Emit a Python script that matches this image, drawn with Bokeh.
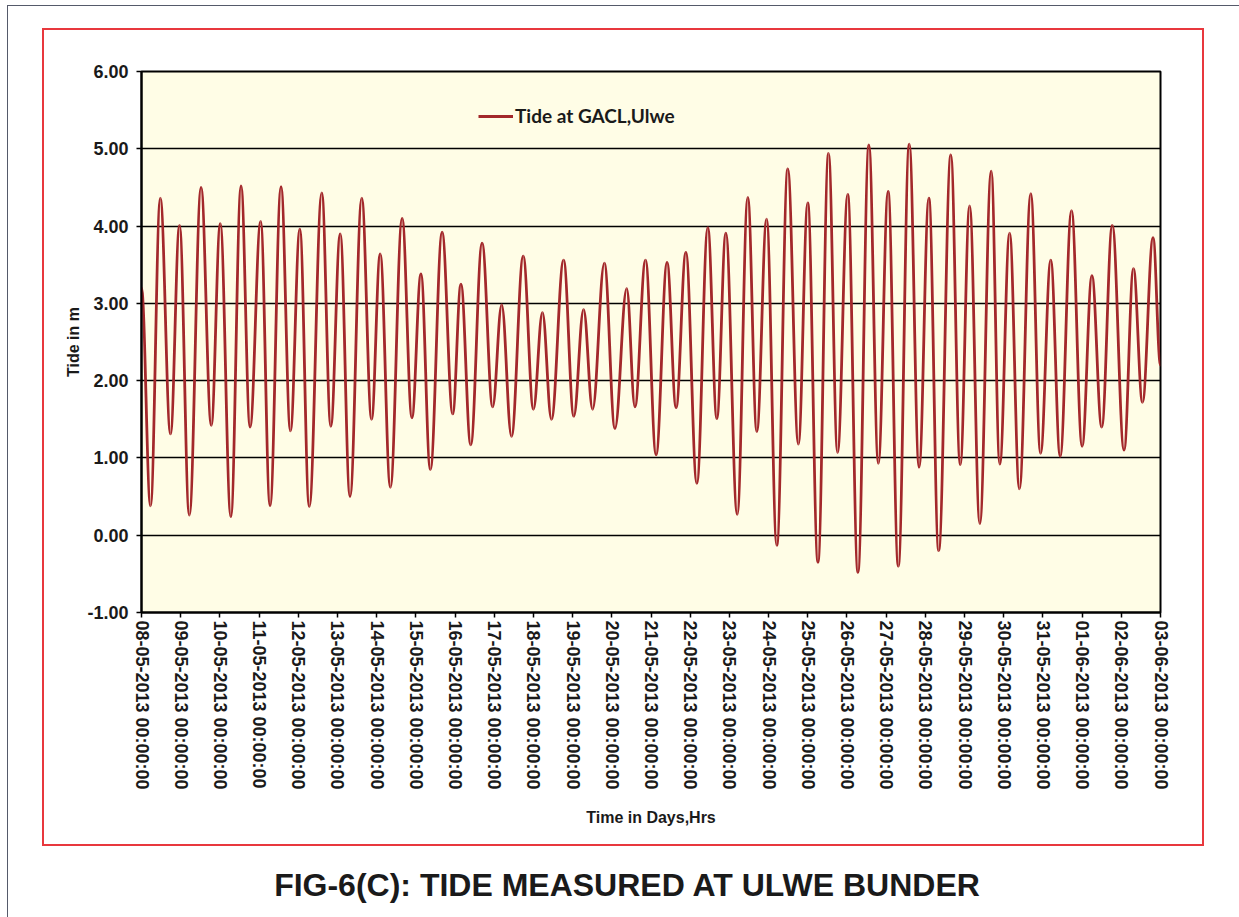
import numpy as np
from bokeh.plotting import figure
from bokeh.models import (ColumnDataSource, FixedTicker, Legend, LegendItem, Div,
                          Spacer, Range1d, NumeralTickFormatter)
from bokeh.layouts import column, row
from bokeh.embed import file_html
from bokeh.resources import INLINE

# ---- data ----
tick_labels = [
    "08-05-2013 00:00:00", "09-05-2013 00:00:00", "10-05-2013 00:00:00",
    "11-05-2013 00:00:00", "12-05-2013 00:00:00", "13-05-2013 00:00:00",
    "14-05-2013 00:00:00", "15-05-2013 00:00:00", "16-05-2013 00:00:00",
    "17-05-2013 00:00:00", "18-05-2013 00:00:00", "19-05-2013 00:00:00",
    "20-05-2013 00:00:00", "21-05-2013 00:00:00", "22-05-2013 00:00:00",
    "23-05-2013 00:00:00", "24-05-2013 00:00:00", "25-05-2013 00:00:00",
    "26-05-2013 00:00:00", "27-05-2013 00:00:00", "28-05-2013 00:00:00",
    "29-05-2013 00:00:00", "30-05-2013 00:00:00", "31-05-2013 00:00:00",
    "01-06-2013 00:00:00", "02-06-2013 00:00:00", "03-06-2013 00:00:00",
]

# time of each high / low water, in days after 08-05-2013 00:00
tide_day = [
    0.00, 0.23, 0.48, 0.74, 0.97, 1.22, 1.52, 1.78, 2.01, 2.28, 2.54, 2.77,
    3.04, 3.28, 3.56, 3.80, 4.04, 4.28, 4.60, 4.83, 5.07, 5.32, 5.62, 5.87,
    6.09, 6.35, 6.65, 6.90, 7.13, 7.37, 7.67, 7.94, 8.15, 8.40, 8.69, 8.96,
    9.19, 9.44, 9.74, 10.00, 10.23, 10.46, 10.77, 11.03, 11.28, 11.51, 11.81, 12.08,
    12.38, 12.59, 12.86, 13.13, 13.41, 13.64, 13.89, 14.17, 14.45, 14.68, 14.91, 15.20,
    15.47, 15.70, 15.95, 16.21, 16.49, 16.76, 17.00, 17.26, 17.53, 17.76, 18.02, 18.28,
    18.56, 18.80, 19.05, 19.31, 19.59, 19.84, 20.09, 20.34, 20.65, 20.89, 21.13, 21.39,
    21.68, 21.90, 22.15, 22.40, 22.69, 22.94, 23.20, 23.44, 23.73, 24.00, 24.25, 24.50,
    24.77, 25.07, 25.31, 25.54, 25.81, 26.00,
]
# tide level in m
tide_level = [
    3.20, 0.38, 4.36, 1.31, 4.01, 0.26, 4.50, 1.42, 4.03, 0.24, 4.52, 1.40,
    4.06, 0.38, 4.51, 1.35, 3.96, 0.37, 4.43, 1.41, 3.90, 0.50, 4.36, 1.50,
    3.64, 0.62, 4.10, 1.52, 3.38, 0.85, 3.92, 1.57, 3.25, 1.17, 3.78, 1.66,
    2.98, 1.28, 3.61, 1.63, 2.88, 1.50, 3.56, 1.54, 2.92, 1.63, 3.52, 1.38,
    3.19, 1.66, 3.56, 1.04, 3.53, 1.65, 3.66, 0.67, 3.98, 1.51, 3.91, 0.27,
    4.37, 1.34, 4.09, -0.13, 4.74, 1.18, 4.30, -0.35, 4.94, 1.07, 4.41, -0.48,
    5.05, 0.93, 4.45, -0.40, 5.06, 0.88, 4.36, -0.20, 4.92, 0.91, 4.26, 0.15,
    4.71, 0.92, 3.91, 0.60, 4.42, 1.06, 3.56, 1.02, 4.20, 1.15, 3.36, 1.40,
    4.01, 1.10, 3.45, 1.72, 3.85, 2.20,
]

series_name = "Tide at GACL,Ulwe"
x_title = "Time in Days,Hrs"
y_title = "Tide in m"
caption_text = "FIG-6(C): TIDE MEASURED AT ULWE BUNDER"

# ---- smooth curve segments between successive turning points ----
d = np.array(tide_day, dtype=float)
v = np.array(tide_level, dtype=float)
x0, x1, y0, y1 = d[:-1], d[1:], v[:-1], v[1:]
k = 0.37 * (x1 - x0)
src = ColumnDataSource(dict(x0=x0, y0=y0, x1=x1, y1=y1,
                            cx0=x0 + k, cy0=y0, cx1=x1 - k, cy1=y1))

FONT = "Liberation Sans"
TXT = "#1a1a1a"

p = figure(width=1162, height=818,
           x_range=Range1d(0, len(tick_labels) - 1), y_range=Range1d(-1, 6),
           output_backend="svg", toolbar_location=None,
           min_border_left=97, min_border_right=46,
           min_border_top=41, min_border_bottom=236,
           styles={"border": "2px solid #e8383d"})

p.background_fill_color = "#fffde6"
p.border_fill_color = "white"
p.outline_line_color = "black"
p.outline_line_width = 2

r = p.bezier(x0="x0", y0="y0", x1="x1", y1="y1", cx0="cx0", cy0="cy0",
             cx1="cx1", cy1="cy1", source=src, line_color="#a3282b", line_width=2.8)

# axes
p.xaxis.ticker = FixedTicker(ticks=list(range(len(tick_labels))))
p.xaxis.major_label_overrides = {i: lab for i, lab in enumerate(tick_labels)}
p.xaxis.major_label_orientation = "vertical"
p.yaxis.ticker = FixedTicker(ticks=[-1, 0, 1, 2, 3, 4, 5, 6])
p.yaxis.formatter = NumeralTickFormatter(format="0.00")

for ax in (p.xaxis[0], p.yaxis[0]):
    ax.major_label_text_font = FONT
    ax.major_label_text_font_style = "bold"
    ax.major_label_text_color = TXT
    ax.axis_label_text_font = FONT
    ax.axis_label_text_font_style = "bold"
    ax.axis_label_text_color = TXT
    ax.axis_line_color = "black"
    ax.axis_line_width = 2
    ax.major_tick_line_color = "black"
    ax.major_tick_line_width = 1.5
    ax.major_tick_in = 0
    ax.major_tick_out = 5
    ax.minor_tick_line_color = None

p.xaxis.major_label_text_font_size = "18px"
p.xaxis.major_label_standoff = 3
p.yaxis.major_label_text_font_size = "18px"
p.yaxis.major_label_standoff = 8
p.xaxis.axis_label = x_title
p.xaxis.axis_label_text_font_size = "16px"
p.xaxis.axis_label_standoff = 16
p.yaxis.axis_label = y_title
p.yaxis.axis_label_text_font_size = "16px"
p.yaxis.axis_label_standoff = 2

p.xgrid.grid_line_color = None
p.ygrid.grid_line_color = "black"
p.ygrid.grid_line_width = 1.5

legend = Legend(items=[LegendItem(label=series_name, renderers=[r])],
                location=(337, 485), padding=0, margin=0, spacing=0,
                glyph_width=35, glyph_height=22, label_height=22,
                label_standoff=2, border_line_color=None,
                background_fill_alpha=0)
legend.label_text_font = "Lato"
legend.label_text_font_style = "bold"
legend.label_text_font_size = "19px"
legend.label_text_color = TXT
p.add_layout(legend)

caption = Div(
    text='<div style="width:1228px;text-align:center;padding-top:12px;'
         'font-family:\'Liberation Sans\';font-weight:bold;font-size:32px;'
         'color:#1a1a1a;">' + caption_text + '</div>',
    width=1228, height=66)

framed = column(
    Spacer(height=22),
    row(Spacer(width=34), p, Spacer(width=31)),
    caption,
    styles={"border": "1px solid #555a6a"},
)

page = column(Spacer(height=5), row(Spacer(width=7), framed))

open("out.html", "w").write(file_html(page, INLINE))
